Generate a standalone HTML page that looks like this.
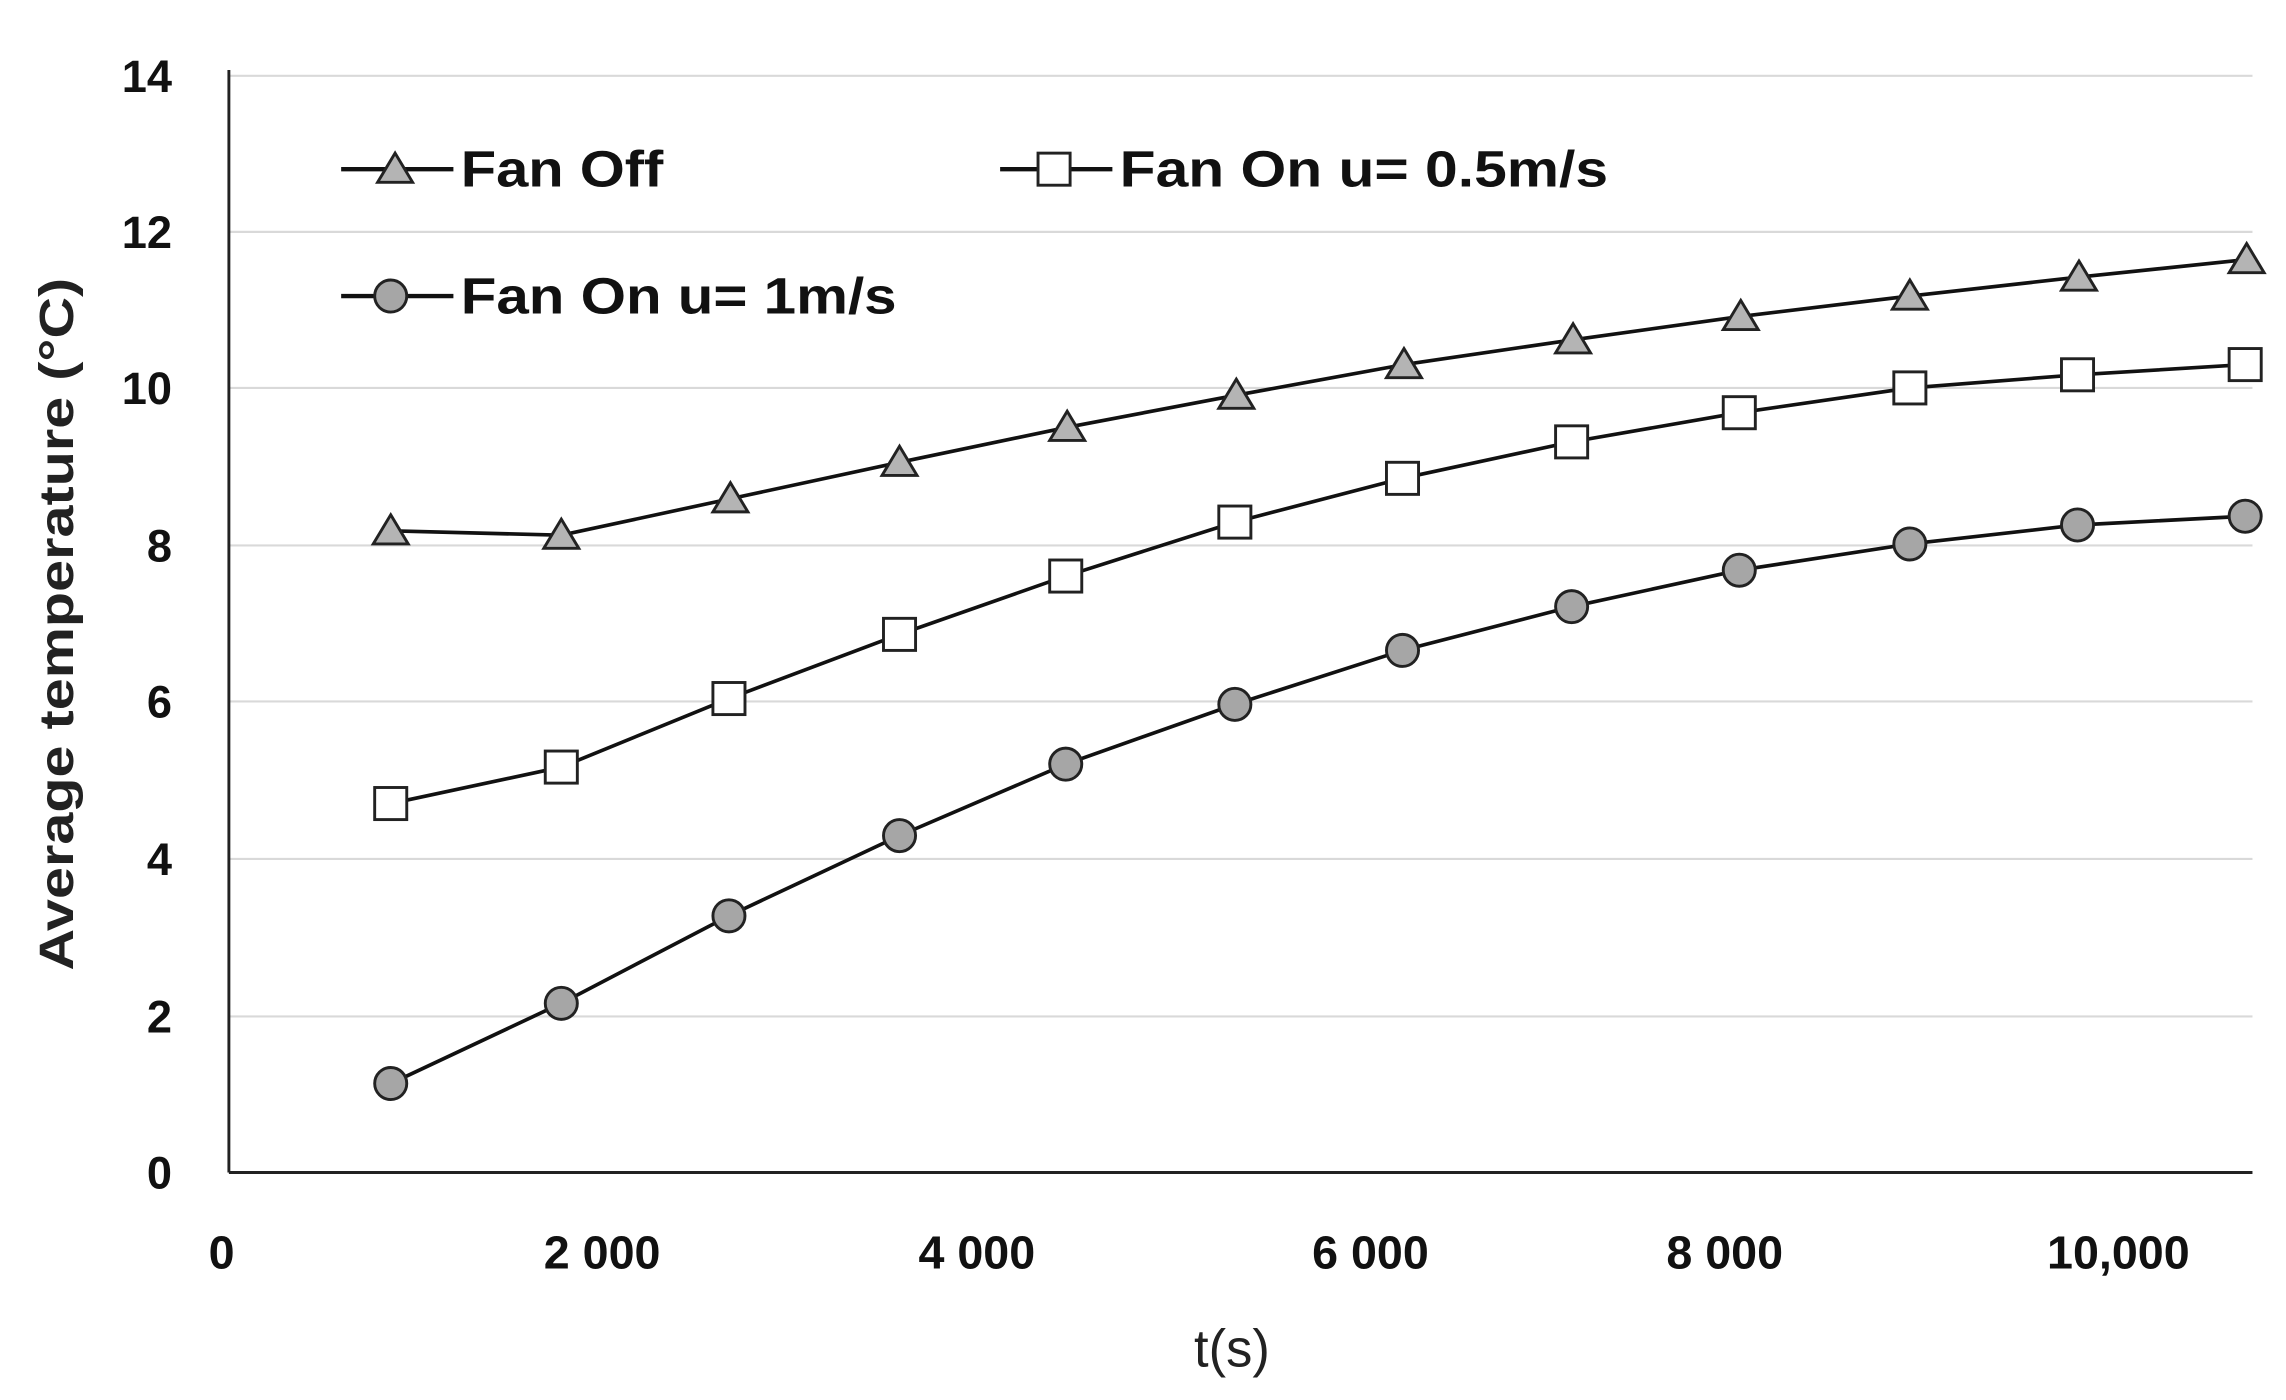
<!DOCTYPE html>
<html><head><style>html,body{margin:0;padding:0;background:#fff}svg{display:block}</style></head>
<body>
<svg width="2286" height="1400" viewBox="0 0 1568 960" preserveAspectRatio="none" xmlns="http://www.w3.org/2000/svg" font-family="Liberation Sans, sans-serif">
<g stroke="#d9d9d9" stroke-width="1.5">
<line x1="157" y1="52" x2="1545" y2="52"/><line x1="157" y1="159" x2="1545" y2="159"/>
<line x1="157" y1="266" x2="1545" y2="266"/><line x1="157" y1="374" x2="1545" y2="374"/>
<line x1="157" y1="481" x2="1545" y2="481"/><line x1="157" y1="589" x2="1545" y2="589"/>
<line x1="157" y1="697" x2="1545" y2="697"/>
</g>
<line x1="157" y1="48" x2="157" y2="804" stroke="#222" stroke-width="2"/>
<line x1="157" y1="804" x2="1545" y2="804" stroke="#222" stroke-width="2"/>
<g font-size="31" font-weight="bold" text-anchor="end" fill="#111">
<text x="118" y="63">14</text><text x="118" y="170">12</text><text x="118" y="277">10</text>
<text x="118" y="385">8</text><text x="118" y="492">6</text><text x="118" y="600">4</text>
<text x="118" y="708">2</text><text x="118" y="815">0</text>
</g>
<g font-size="32" font-weight="bold" text-anchor="middle" fill="#111">
<text x="152" y="870">0</text><text x="413" y="870">2 000</text><text x="670" y="870">4 000</text>
<text x="940" y="870">6 000</text><text x="1183" y="870">8 000</text><text x="1453" y="870">10,000</text>
</g>
<text x="845" y="937" font-size="36" text-anchor="middle" fill="#222">t(s)</text>
<text transform="translate(50,428) rotate(-90)" font-size="33" font-weight="bold" text-anchor="middle" fill="#222" textLength="475" lengthAdjust="spacingAndGlyphs">Average temperature (°C)</text>
<g fill="none" stroke="#111" stroke-width="2.5">
<polyline points="268,364 385,367 501,342 617,317 732,293 848,271 963,250 1079,233 1194,217 1310,203 1426,190 1541,178"/>
<polyline points="268,551 385,526 500,479 617,435 731,395 847,358 962,328 1078,303 1193,283 1310,266 1425,257 1540,250"/>
<polyline points="268,743 385,688 500,628 617,573 731,524 847,483 962,446 1078,416 1193,391 1310,373 1425,360 1540,354"/>
</g>
<g fill="#b4b4b4" stroke="#222" stroke-width="2">
<polygon points="268,353 280,373 256,373"/><polygon points="385,356 397,376 373,376"/><polygon points="501,331 513,351 489,351"/>
<polygon points="617,306 629,326 605,326"/><polygon points="732,282 744,302 720,302"/><polygon points="848,260 860,280 836,280"/>
<polygon points="963,239 975,259 951,259"/><polygon points="1079,222 1091,242 1067,242"/><polygon points="1194,206 1206,226 1182,226"/>
<polygon points="1310,192 1322,212 1298,212"/><polygon points="1426,179 1438,199 1414,199"/><polygon points="1541,167 1553,187 1529,187"/>
</g>
<g fill="#fff" stroke="#222" stroke-width="2">
<rect x="257" y="540" width="22" height="22"/><rect x="374" y="515" width="22" height="22"/><rect x="489" y="468" width="22" height="22"/>
<rect x="606" y="424" width="22" height="22"/><rect x="720" y="384" width="22" height="22"/><rect x="836" y="347" width="22" height="22"/>
<rect x="951" y="317" width="22" height="22"/><rect x="1067" y="292" width="22" height="22"/><rect x="1182" y="272" width="22" height="22"/>
<rect x="1299" y="255" width="22" height="22"/><rect x="1414" y="246" width="22" height="22"/><rect x="1529" y="239" width="22" height="22"/>
</g>
<g fill="#a6a6a6" stroke="#222" stroke-width="2">
<circle cx="268" cy="743" r="11"/><circle cx="385" cy="688" r="11"/><circle cx="500" cy="628" r="11"/>
<circle cx="617" cy="573" r="11"/><circle cx="731" cy="524" r="11"/><circle cx="847" cy="483" r="11"/>
<circle cx="962" cy="446" r="11"/><circle cx="1078" cy="416" r="11"/><circle cx="1193" cy="391" r="11"/>
<circle cx="1310" cy="373" r="11"/><circle cx="1425" cy="360" r="11"/><circle cx="1540" cy="354" r="11"/>
</g>
<g stroke="#111" stroke-width="3">
<line x1="234" y1="116" x2="311" y2="116"/><line x1="686" y1="116" x2="763" y2="116"/><line x1="234" y1="203" x2="311" y2="203"/>
</g>
<polygon points="271,105 283,125 259,125" fill="#b4b4b4" stroke="#222" stroke-width="2"/>
<rect x="712" y="105" width="22" height="22" fill="#fff" stroke="#222" stroke-width="2"/>
<circle cx="268" cy="203" r="11" fill="#a6a6a6" stroke="#222" stroke-width="2"/>
<g font-size="35" font-weight="bold" fill="#111">
<text x="316" y="128" textLength="139" lengthAdjust="spacingAndGlyphs">Fan Off</text>
<text x="768" y="128" textLength="335" lengthAdjust="spacingAndGlyphs">Fan On u= 0.5m/s</text>
<text x="316" y="215" textLength="299" lengthAdjust="spacingAndGlyphs">Fan On u= 1m/s</text>
</g>
</svg>
</body></html>
